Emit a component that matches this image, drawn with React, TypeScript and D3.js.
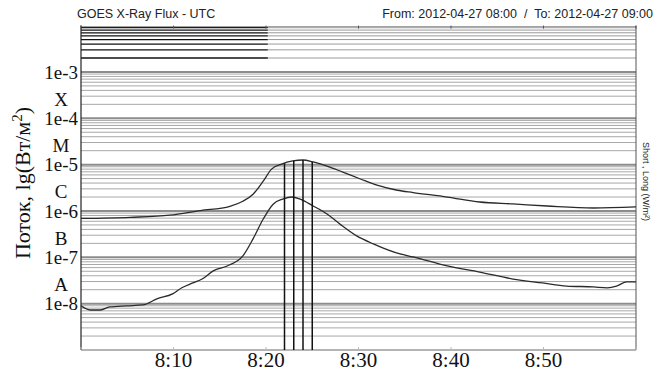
import React from 'react';
import * as d3 from 'd3';

// GOES X-ray flux, 2012-04-27 08:00-09:00 UTC (minutes after 08:00, W/m2)
const longMinutes = [0, 5.3, 9.6, 12.9, 16.1, 17.5, 18.6, 19.7, 20.6, 21.7, 22.9, 24.0, 25.1, 26.6, 28.3, 30.2, 32.0, 34.2, 35.9, 39.6, 43.1, 46.7, 50.4, 55.4, 60];
const longFlux = [6.9e-7, 7.3e-7, 8.1e-7, 1.02e-6, 1.26e-6, 1.62e-6, 2.3e-6, 4.4e-6, 8.0e-6, 1.03e-5, 1.2e-5, 1.26e-5, 1.14e-5, 9.3e-6, 6.9e-6, 4.9e-6, 3.6e-6, 2.8e-6, 2.5e-6, 2.0e-6, 1.56e-6, 1.42e-6, 1.28e-6, 1.16e-6, 1.22e-6];

const shortMinutes = [0, 1.0, 2.1, 3.1, 5.0, 6.7, 8.2, 9.9, 10.9, 12.1, 13.1, 14.3, 15.8, 17.5, 18.6, 19.7, 20.8, 21.8, 22.8, 23.7, 25.1, 26.6, 28.0, 29.8, 31.6, 34.5, 35.9, 39.6, 43.1, 46.7, 49.9, 52.5, 55.4, 56.9, 57.9, 59.0, 60];
const shortFlux = [9.0e-9, 7.3e-9, 7.3e-9, 8.5e-9, 9.0e-9, 9.4e-9, 1.27e-8, 1.63e-8, 2.2e-8, 2.8e-8, 3.4e-8, 5.1e-8, 6.5e-8, 1.07e-7, 2.5e-7, 6.7e-7, 1.42e-6, 1.8e-6, 2.0e-6, 1.8e-6, 1.28e-6, 8.6e-7, 5.2e-7, 2.9e-7, 1.95e-7, 1.18e-7, 1.02e-7, 6.5e-8, 4.8e-8, 3.4e-8, 2.8e-8, 2.4e-8, 2.3e-8, 2.2e-8, 2.4e-8, 2.95e-8, 2.95e-8];

const markerMinutes = [22, 23, 24, 25];

const decadeLabels = ['1e-3', '1e-4', '1e-5', '1e-6', '1e-7', '1e-8'];
const decadeValues = [1e-3, 1e-4, 1e-5, 1e-6, 1e-7, 1e-8];
const classLabels = ['X', 'M', 'C', 'B', 'A'];
const classValues = [3.16e-4, 3.16e-5, 3.16e-6, 3.16e-7, 3.16e-8];

const startTime = new Date(Date.UTC(2012, 3, 27, 8, 0));
const endTime = new Date(Date.UTC(2012, 3, 27, 9, 0));
const blackGridUntil = 20.2; // minutes: dark grid segment in the top decade

const W = 660, H = 375;
const left = 81, right = 636, top = 25.6, bottom = 350;

const at = (m: number) => new Date(startTime.getTime() + m * 60000);

export default function App() {
  const x = d3.scaleUtc().domain([startTime, endTime]).range([left, right]);
  const y = d3.scaleLog().domain([1e-9, 1e-2]).range([bottom, top]);

  const line = d3.line<[number, number]>()
    .x(d => x(at(d[0])))
    .y(d => y(d[1]))
    .curve(d3.curveMonotoneX);

  const longPts = longMinutes.map((m, i) => [m, longFlux[i]] as [number, number]);
  const shortPts = shortMinutes.map((m, i) => [m, shortFlux[i]] as [number, number]);

  // log-interpolate the long channel at a given minute
  const longAt = (m: number) => {
    const i = Math.max(1, d3.bisectLeft(longMinutes, m));
    const t = (m - longMinutes[i - 1]) / (longMinutes[i] - longMinutes[i - 1]);
    return Math.pow(10, Math.log10(longFlux[i - 1]) * (1 - t) + Math.log10(longFlux[i]) * t);
  };

  const grid = y.ticks().filter(v => v < 1e-2 * 0.999);
  const timeTicks = x.ticks(d3.utcMinute.every(10)!);
  const fmt = d3.utcFormat('%-H:%M');
  const xBlack = x(at(blackGridUntil));

  return (
    <svg width={W} height={H} style={{ position: 'absolute', left: 0, top: 0, background: '#fff' }}>
      <rect x={0} y={0} width={W} height={H} fill="#fff" />

      {grid.map((v, i) => {
        const isDecade = Math.abs(Math.log10(v) - Math.round(Math.log10(v))) < 1e-6;
        const yy = y(v);
        if (v > 1e-3 * 1.001) {
          return (
            <g key={i}>
              <line x1={left} x2={xBlack} y1={yy} y2={yy} stroke="#111" strokeWidth={1.3} />
              <line x1={xBlack} x2={right} y1={yy} y2={yy} stroke="#9a9a9a" strokeWidth={1} />
            </g>
          );
        }
        return (
          <line key={i} x1={left} x2={right} y1={yy} y2={yy}
            stroke={isDecade ? '#8c8c8c' : '#a8a8a8'} strokeWidth={isDecade ? 2 : 1} />
        );
      })}

      {/* frame */}
      <line x1={left} x2={right} y1={top + 1} y2={top + 1} stroke="#999" />
      <line x1={left} x2={right} y1={bottom} y2={bottom} stroke="#ddd" />
      <line x1={left} x2={left} y1={top} y2={bottom} stroke="#222" strokeWidth={1.2} />
      <line x1={right} x2={right} y1={top} y2={bottom} stroke="#555" strokeWidth={1} />

      {timeTicks.map((t, i) => (
        <g key={i}>
          <line x1={x(t)} x2={x(t)} y1={top} y2={top + 3} stroke="#555" />
          <line x1={x(t)} x2={x(t)} y1={bottom - 3} y2={bottom} stroke="#bbb" />
        </g>
      ))}

      {/* flux curves */}
      <path d={line(longPts) || ''} fill="none" stroke="#2a2a2a" strokeWidth={1.3} />
      <path d={line(shortPts) || ''} fill="none" stroke="#2a2a2a" strokeWidth={1.3} />

      {markerMinutes.map((m, i) => (
        <line key={i} x1={x(at(m))} x2={x(at(m))} y1={y(longAt(m))} y2={bottom}
          stroke="#111" strokeWidth={1.5} />
      ))}

      {/* labels */}
      <g fontFamily="'Liberation Serif', serif" fill="#111">
        {decadeValues.map((v, i) => (
          <text key={i} x={78} y={y(v)} dy="0.35em" fontSize={19} textAnchor="end">{decadeLabels[i]}</text>
        ))}
        {classValues.map((v, i) => (
          <text key={i} x={61} y={y(v) + 4} dy="0.35em" fontSize={19} textAnchor="middle">{classLabels[i]}</text>
        ))}
        {timeTicks.filter(t => t > startTime && t < endTime).map((t, i) => (
          <text key={i} x={x(t)} y={367} fontSize={21} textAnchor="middle">{fmt(t)}</text>
        ))}
        <text transform="translate(30,183) rotate(-90)" fontSize={22} textAnchor="middle">
          Поток, lg(Вт/м<tspan dy={-8} fontSize={15}>2</tspan><tspan dy={8}>)</tspan>
        </text>
      </g>

      <g fontFamily="'Liberation Sans', Arial, sans-serif" fill="#222">
        <text x={77} y={18} fontSize={12.5}>GOES X-Ray Flux - UTC</text>
        <text x={653} y={18} fontSize={12.5} textAnchor="end" style={{ whiteSpace: 'pre' }}>From: 2012-04-27 08:00  /  To: 2012-04-27 09:00</text>
        <text transform="translate(643,142) rotate(90)" fontSize={9}>Short , Long (W/m²)</text>
      </g>
    </svg>
  );
}
